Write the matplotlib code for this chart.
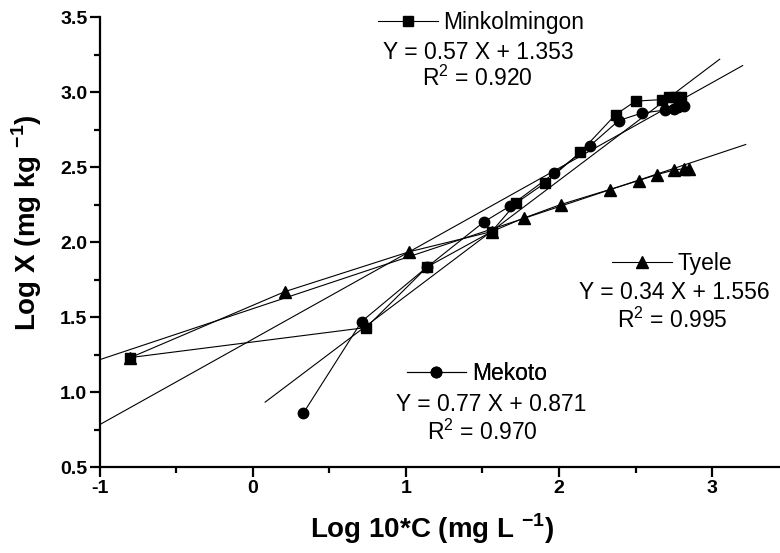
import matplotlib.pyplot as plt
from matplotlib.ticker import MultipleLocator

plt.rcParams['font.family'] = ['Liberation Sans', 'DejaVu Sans']
plt.rcParams['mathtext.fontset'] = 'custom'
plt.rcParams['mathtext.rm'] = 'Liberation Sans'
plt.rcParams['mathtext.bf'] = 'Liberation Sans:bold'
plt.rcParams['axes.unicode_minus'] = False

# Minkolmingon (squares)
mink_x = [-0.80, 0.74, 1.14, 1.56, 1.72, 1.91, 2.14, 2.37, 2.50, 2.67, 2.72, 2.76, 2.80]
mink_y = [1.23, 1.43, 1.835, 2.07, 2.26, 2.395, 2.60, 2.85, 2.94, 2.95, 2.965, 2.97, 2.965]
mink_fit = (0.57, 1.353)
mink_fit_x = [-1.0, 3.2]

# Mekoto (circles)
mek_x = [0.33, 0.71, 1.14, 1.51, 1.68, 1.97, 2.20, 2.39, 2.54, 2.69, 2.75, 2.78, 2.82]
mek_y = [0.86, 1.47, 1.835, 2.135, 2.24, 2.46, 2.64, 2.81, 2.86, 2.88, 2.89, 2.90, 2.91]
mek_fit = (0.77, 0.871)
mek_fit_x = [0.08, 3.05]

# Tyele (triangles)
tye_x = [-0.80, 0.21, 1.02, 1.56, 1.77, 2.01, 2.33, 2.52, 2.64, 2.75, 2.82, 2.85]
tye_y = [1.23, 1.67, 1.935, 2.07, 2.16, 2.25, 2.35, 2.41, 2.45, 2.48, 2.49, 2.49]
tye_fit = (0.34, 1.556)
tye_fit_x = [-1.0, 3.22]

r2 = {'Minkolmingon': '0.920', 'Tyele': '0.995', 'Mekoto': '0.970'}

fig = plt.figure(figsize=(7.8, 5.53), dpi=100)
ax = fig.add_axes([0.128, 0.1555, 0.872, 0.8135])


def fit_line(coef, xs):
    a, b = coef
    ax.plot(xs, [a * x + b for x in xs], color='black', lw=0.8, zorder=2)


fit_line(mink_fit, mink_fit_x)
fit_line(mek_fit, mek_fit_x)
fit_line(tye_fit, tye_fit_x)

h_mink, = ax.plot(mink_x, mink_y, color='black', lw=0.8, marker='s', ms=7, zorder=3)
h_mek, = ax.plot(mek_x, mek_y, color='black', lw=0.8, marker='o', ms=7.5, zorder=4)
h_tye, = ax.plot(tye_x, tye_y, color='black', lw=0.8, marker='^', ms=8, zorder=5)

txt_size = 16.5


def key(handle, name, anchor):
    leg = ax.legend([handle], [name], loc='center left', bbox_to_anchor=anchor,
                    frameon=False, fontsize=txt_size, handlelength=2.6,
                    handletextpad=0.25, borderpad=0, borderaxespad=0)
    ax.add_artist(leg)


key(h_mink, 'Minkolmingon', (0.409, 0.989))
key(h_tye, 'Tyele', (0.753, 0.453))
key(h_mek, 'Mekoto', (0.451, 0.207))

ax.text(0.557, 0.922, 'Y = 0.57 X + 1.353', transform=ax.transAxes, ha='center', va='center', fontsize=txt_size)
ax.text(0.555, 0.864, 'R$^2$ = ' + r2['Minkolmingon'], transform=ax.transAxes, ha='center', va='center', fontsize=txt_size)
ax.text(0.844, 0.387, 'Y = 0.34 X + 1.556', transform=ax.transAxes, ha='center', va='center', fontsize=txt_size)
ax.text(0.841, 0.327, 'R$^2$ = ' + r2['Tyele'], transform=ax.transAxes, ha='center', va='center', fontsize=txt_size)
ax.text(0.575, 0.140, 'Y = 0.77 X + 0.871', transform=ax.transAxes, ha='center', va='center', fontsize=txt_size)
ax.text(0.562, 0.078, 'R$^2$ = ' + r2['Mekoto'], transform=ax.transAxes, ha='center', va='center', fontsize=txt_size)

ax.set_xlim(-1, 3.444)
ax.set_ylim(0.5, 3.5)
ax.xaxis.set_major_locator(MultipleLocator(1))
ax.xaxis.set_minor_locator(MultipleLocator(0.5))
ax.yaxis.set_major_locator(MultipleLocator(0.5))
ax.yaxis.set_minor_locator(MultipleLocator(0.25))
ax.set_yticks([0.5, 1.0, 1.5, 2.0, 2.5, 3.0, 3.5])
ax.set_yticklabels(['0.5', '1.0', '1.5', '2.0', '2.5', '3.0', '3.5'])

for s in ['top', 'right']:
    ax.spines[s].set_visible(False)
for s in ['left', 'bottom']:
    ax.spines[s].set_linewidth(1.6)
ax.tick_params(which='major', direction='out', length=7, width=1.6, labelsize=14, pad=2)
ax.tick_params(which='minor', direction='out', length=4, width=1.6)
for lab in ax.get_xticklabels() + ax.get_yticklabels():
    lab.set_fontweight('bold')

ax.set_xlabel(r'Log 10*C (mg L $^{\mathbf{-1}}$)', fontsize=20, fontweight='bold')
ax.xaxis.set_label_coords(0.488, -0.098)
ax.set_ylabel(r'Log X (mg kg $^{\mathbf{-1}}$)', fontsize=20, fontweight='bold')
ax.yaxis.set_label_coords(-0.082, 0.544)

fig.savefig('out.png', dpi=100)
